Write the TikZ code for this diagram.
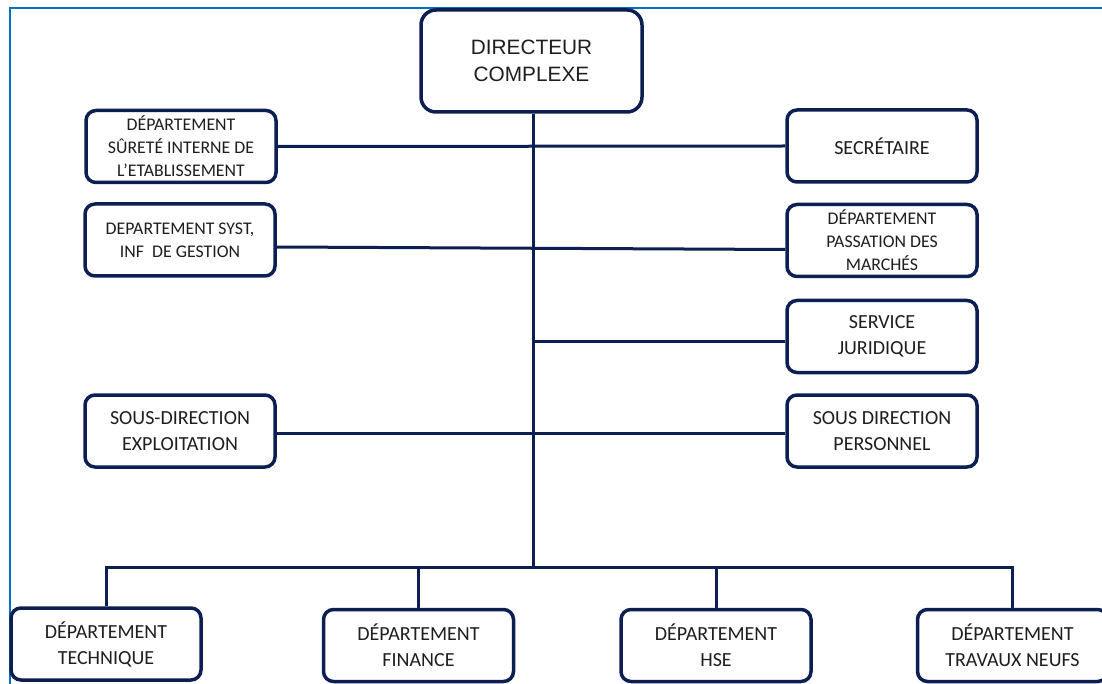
\documentclass[tikz,border=0pt]{standalone}
\usepackage{fontspec}
\setmainfont{Carlito}
\newfontfamily\arialfont{Liberation Sans}
\definecolor{boxline}{RGB}{12,30,82}
\definecolor{boxtext}{RGB}{30,30,30}
\definecolor{frameblue}{RGB}{0,112,192}
\tikzset{
  orgbox/.style={draw=boxline, line width=3.5pt, rounded corners=10pt, fill=white,
    minimum width=190pt, minimum height=72pt, inner sep=0pt, align=center,
    text=boxtext, font=\fontsize{20}{26}\selectfont},
  smalltext/.style={font=\fontsize{17.8}{23}\selectfont},
  link/.style={draw=boxline, line width=3pt},
}
\begin{document}
\begin{tikzpicture}[x=1pt, y=-1pt]
\useasboundingbox (0,0) rectangle (1102,684);
\begin{scope}
\clip (0,0) rectangle (1102,684);
% outer frame
\draw[frameblue, line width=2pt] (10,690) -- (10,8) -- (1110,8);

% bus coordinate under the trunk
\coordinate (bus) at (533,567);

% boxes
\node[orgbox, minimum width=221pt, minimum height=102pt, rounded corners=15pt,
      font=\arialfont\fontsize{20.8}{27}\selectfont] (dir) at (531.5,61) {DIRECTEUR\\COMPLEXE};
\node[orgbox, smalltext] (sur) at (181,146.5) {DÉPARTEMENT\\SÛRETÉ INTERNE DE\\L’ETABLISSEMENT};
\node[orgbox] (sec) at (882,146) {SECRÉTAIRE};
\node[orgbox, smalltext] (syst) at (180,240) {DEPARTEMENT SYST,\\INF\ \ DE GESTION};
\node[orgbox, smalltext] (pass) at (882,240.5) {DÉPARTEMENT\\PASSATION DES\\MARCHÉS};
\node[orgbox] (jur) at (882,336.5) {SERVICE\\JURIDIQUE};
\node[orgbox] (exp) at (180,431) {SOUS-DIRECTION\\EXPLOITATION};
\node[orgbox] (pers) at (882,431) {SOUS DIRECTION\\PERSONNEL};

\node[orgbox] (tech) at (106,644) {DÉPARTEMENT\\TECHNIQUE};
\node[orgbox] (fin) at (418.5,645.5) {DÉPARTEMENT\\FINANCE};
\node[orgbox] (hse) at (716,645.5) {DÉPARTEMENT\\HSE};
\node[orgbox] (trav) at (1012.5,645.5) {DÉPARTEMENT\\TRAVAUX NEUFS};

% connectors (y axis points down, so a negative yshift moves a point down)
\draw[link] (dir.south -| bus) -- (bus);
\draw[link] (sur.east) -- (sec.west);
\draw[link] ([yshift=-7pt]syst.east) -- ([yshift=-9pt]pass.west);
\draw[link] ([yshift=-4.5pt]jur.west) -- ([yshift=-4.5pt]jur.west -| bus);
\draw[link] ([yshift=-2pt]exp.east) -- ([yshift=-2pt]pers.west);
\draw[link] (tech.north) -- (tech.north |- bus) -- (trav.north |- bus) -- (trav.north);
\draw[link] (fin.north) -- (fin.north |- bus);
\draw[link] (hse.north) -- (hse.north |- bus);
\end{scope}
\end{tikzpicture}
\end{document}
